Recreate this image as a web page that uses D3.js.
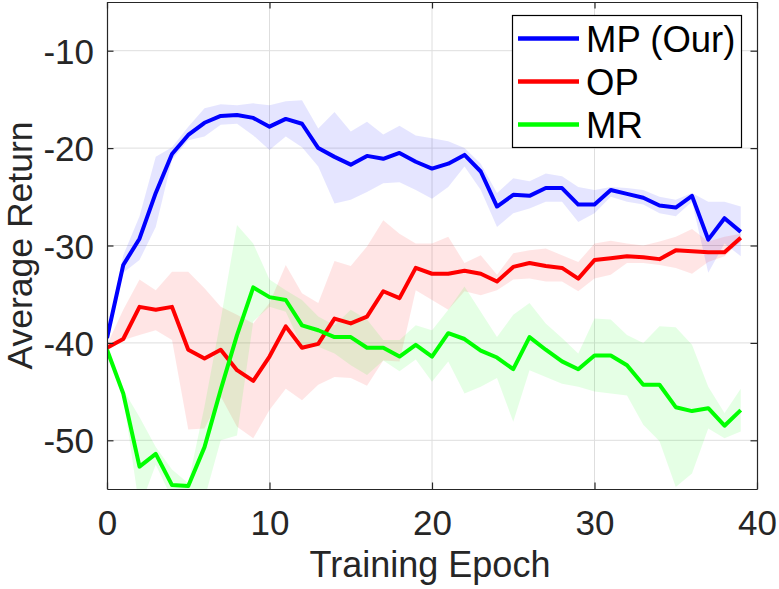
<!DOCTYPE html>
<html>
<head>
<meta charset="utf-8">
<script src="https://cdn.jsdelivr.net/npm/d3@7/dist/d3.min.js"></script>
<style>
html,body{margin:0;padding:0;background:#fff;}
svg{display:block;font-family:"Liberation Sans",Arial,Helvetica,sans-serif;}
</style>
</head>
<body>
<svg id="chart" width="779" height="589"></svg>
<script>
const epochs = d3.range(0, 40);
const seriesNames = ["MP (Our)", "OP", "MR"];
const seriesColors = ["#0000ff", "#ff0000", "#00ff00"];

const mpMean = [-39.5,-32.0,-29.3,-24.6,-20.6,-18.65,-17.4,-16.7,-16.6,-16.9,-17.8,-17.0,-17.5,-20.0,-20.9,-21.7,-20.8,-21.1,-20.5,-21.4,-22.1,-21.6,-20.7,-22.4,-26.0,-24.8,-24.9,-24.1,-24.1,-25.8,-25.8,-24.3,-24.7,-25.1,-25.9,-26.1,-24.9,-29.4,-27.2,-28.6];
const mpUpper = [-39.2,-31.0,-27.0,-20.9,-19.9,-17.8,-15.9,-15.5,-15.6,-15.4,-15.6,-15.2,-15.1,-18.0,-16.3,-18.3,-17.3,-18.6,-17.7,-18.7,-19.0,-19.3,-20.0,-21.6,-24.6,-23.1,-23.4,-22.6,-22.9,-24.0,-24.3,-24.0,-24.1,-24.3,-25.0,-25.3,-24.6,-25.5,-25.5,-26.0];
const mpLower = [-39.8,-32.8,-31.5,-28.1,-21.2,-19.2,-18.8,-17.6,-17.5,-18.7,-20.2,-18.8,-19.9,-21.9,-25.7,-25.3,-24.5,-23.6,-23.5,-24.3,-25.2,-24.0,-21.9,-24.3,-28.1,-26.7,-26.2,-25.5,-25.5,-27.6,-26.7,-25.0,-25.5,-25.8,-26.7,-27.0,-25.5,-32.8,-29.8,-31.1];

const opMean = [-40.5,-39.6,-36.3,-36.6,-36.3,-40.7,-41.6,-40.7,-42.8,-43.9,-41.4,-38.3,-40.5,-40.1,-37.5,-38.0,-37.3,-34.7,-35.4,-32.3,-32.9,-32.9,-32.6,-32.9,-33.7,-32.2,-31.8,-32.1,-32.3,-33.4,-31.5,-31.3,-31.1,-31.2,-31.4,-30.5,-30.6,-30.7,-30.7,-29.2];
const opUpper = [-40.2,-36.6,-33.5,-34.6,-32.7,-32.7,-34.4,-36.3,-37.1,-38.0,-35.9,-32.0,-34.9,-35.9,-31.6,-32.1,-30.1,-27.4,-28.8,-29.8,-29.8,-29.1,-31.8,-31.0,-33.0,-30.8,-30.5,-30.3,-31.0,-31.7,-29.8,-29.5,-29.8,-30.0,-29.6,-29.1,-28.3,-29.6,-29.1,-28.8];
const opLower = [-40.8,-39.7,-39.2,-38.7,-39.7,-48.9,-48.8,-45.5,-48.6,-49.8,-46.9,-44.7,-45.9,-44.3,-43.5,-43.6,-44.4,-41.8,-41.9,-34.6,-35.6,-36.6,-34.7,-35.1,-34.6,-33.5,-33.4,-33.7,-33.7,-34.7,-33.4,-33.0,-31.8,-31.8,-32.0,-32.3,-32.9,-31.7,-31.1,-29.6];

const mrMean = [-40.7,-45.2,-52.7,-51.4,-54.6,-54.7,-50.7,-44.8,-39.2,-34.3,-35.3,-35.6,-38.2,-38.7,-39.4,-39.4,-40.5,-40.5,-41.4,-40.2,-41.4,-39.0,-39.6,-40.8,-41.5,-42.7,-39.4,-40.7,-41.9,-42.7,-41.3,-41.3,-42.3,-44.3,-44.3,-46.6,-47.0,-46.7,-48.5,-46.9];
const mrUpper = [-40.5,-44.8,-47.6,-50.7,-53.0,-54.4,-46.5,-37.6,-27.9,-29.8,-33.5,-34.6,-35.6,-37.3,-38.2,-36.6,-37.6,-39.7,-39.7,-38.2,-38.7,-36.6,-34.2,-36.8,-39.4,-37.1,-35.9,-38.0,-39.5,-41.1,-37.5,-37.6,-39.2,-40.0,-38.3,-38.4,-40.2,-44.5,-47.2,-44.7];
const mrLower = [-40.9,-45.6,-57.0,-52.5,-56.0,-57.0,-56.0,-50.0,-49.5,-37.8,-36.3,-36.8,-40.4,-40.4,-41.1,-42.3,-43.3,-41.8,-42.9,-41.7,-44.0,-41.9,-45.2,-44.5,-43.6,-48.1,-42.8,-43.5,-44.2,-44.5,-45.0,-45.2,-45.4,-48.4,-50.1,-54.8,-53.4,-48.8,-49.8,-49.1];

const xTicks = [0, 10, 20, 30, 40];
const yTicks = [-50, -40, -30, -20, -10];
const xLabel = "Training Epoch";
const yLabel = "Average Return";

const series = [
  {name: seriesNames[0], color: seriesColors[0], mean: mpMean, upper: mpUpper, lower: mpLower},
  {name: seriesNames[1], color: seriesColors[1], mean: opMean, upper: opUpper, lower: opLower},
  {name: seriesNames[2], color: seriesColors[2], mean: mrMean, upper: mrUpper, lower: mrLower}
];

const L = 107, R = 757, T = 2, B = 489;
const ink = "#262626";
const svg = d3.select("#chart");
const x = d3.scaleLinear().domain([0, 40]).range([L, R]);
const y = d3.scaleLinear().domain([-55, -5]).range([B, T]);

svg.append("defs").append("clipPath").attr("id", "clip")
  .append("rect").attr("x", L).attr("y", T).attr("width", R - L).attr("height", B - T);

// grid
const grid = svg.append("g");
grid.selectAll(".gx").data(xTicks.slice(1, -1)).join("line")
  .attr("x1", d => x(d)).attr("x2", d => x(d)).attr("y1", T).attr("y2", B)
  .attr("stroke", "#dedede").attr("stroke-width", 1);
grid.selectAll(".gy").data(yTicks).join("line")
  .attr("y1", d => y(d)).attr("y2", d => y(d)).attr("x1", L).attr("x2", R)
  .attr("stroke", "#dedede").attr("stroke-width", 1);

const plot = svg.append("g").attr("clip-path", "url(#clip)");
const area = d3.area().x((d, i) => x(epochs[i])).y0(d => y(d[0])).y1(d => y(d[1]));
const line = d3.line().x((d, i) => x(epochs[i])).y(d => y(d));

series.forEach(s => {
  plot.append("path")
    .datum(s.lower.map((v, i) => [v, s.upper[i]]))
    .attr("d", area).attr("fill", s.color).attr("fill-opacity", 0.1).attr("stroke", "none");
});
series.forEach(s => {
  plot.append("path").datum(s.mean).attr("d", line)
    .attr("fill", "none").attr("stroke", s.color).attr("stroke-width", 4)
    .attr("stroke-linejoin", "round");
});

// axes (MATLAB-style inside ticks on all sides)
const tickLen = 6.5;
const fmt = d => String(d);
const axBottom = d3.axisBottom(x).tickValues(xTicks).tickFormat(fmt).tickSizeInner(-tickLen).tickSizeOuter(0);
const axTop = d3.axisTop(x).tickValues(xTicks).tickSizeInner(-tickLen).tickSizeOuter(0).tickFormat("");
const axLeft = d3.axisLeft(y).tickValues(yTicks).tickFormat(fmt).tickSizeInner(-tickLen).tickSizeOuter(0);
const axRight = d3.axisRight(y).tickValues(yTicks).tickSizeInner(-tickLen).tickSizeOuter(0).tickFormat("");

function styleAxis(g) {
  g.selectAll("path").attr("stroke", ink).attr("stroke-width", 1.2);
  g.selectAll("line").attr("stroke", ink).attr("stroke-width", 1.2);
  g.selectAll("text").attr("fill", ink).attr("font-size", 35).attr("font-family", '"Liberation Sans",Arial,sans-serif');
}
const gB = svg.append("g").attr("transform", `translate(0,${B})`).call(axBottom).call(styleAxis);
gB.selectAll("text").attr("dy", null).attr("y", 46);
svg.append("g").attr("transform", `translate(0,${T})`).call(axTop).call(styleAxis);
const gL = svg.append("g").attr("transform", `translate(${L},0)`).call(axLeft).call(styleAxis);
gL.selectAll("text").attr("x", -13).attr("dy", "0.36em");
svg.append("g").attr("transform", `translate(${R},0)`).call(axRight).call(styleAxis);

// axis labels
svg.append("text").attr("x", 430).attr("y", 577).attr("text-anchor", "middle")
  .attr("fill", ink).attr("font-size", 36).text(xLabel);
svg.append("text").attr("transform", `translate(32,${(T + B) / 2}) rotate(-90)`)
  .attr("text-anchor", "middle").attr("fill", ink).attr("font-size", 35.5).text(yLabel);

// legend
const lg = svg.append("g");
lg.append("rect").attr("x", 512.5).attr("y", 15.5).attr("width", 229).attr("height", 132)
  .attr("fill", "#fff").attr("stroke", "#000").attr("stroke-width", 1.2);
series.forEach((s, i) => {
  const cy = 38.5 + i * 43;
  lg.append("line").attr("x1", 518).attr("x2", 579).attr("y1", cy).attr("y2", cy)
    .attr("stroke", s.color).attr("stroke-width", 4.5);
  lg.append("text").attr("x", 586).attr("y", cy + 13.5).attr("fill", "#000")
    .attr("font-size", 36.5).text(s.name);
});
</script>
</body>
</html>
